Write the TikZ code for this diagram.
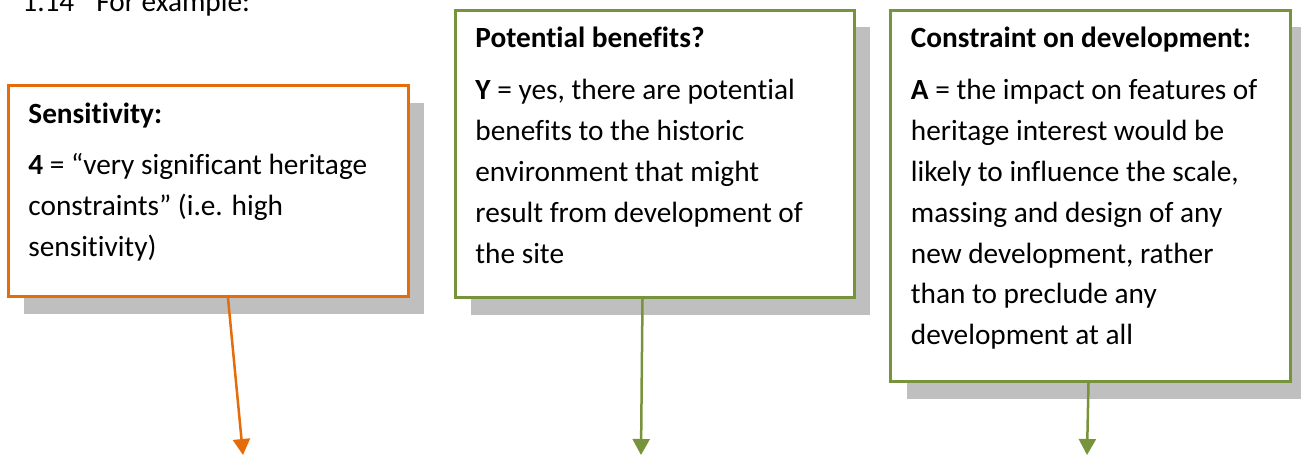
\documentclass[tikz,border=0pt]{standalone}
\usepackage{fontspec}
\setmainfont[Ligatures=NoCommon]{Carlito}
\usepackage{xcolor}
\usepackage{tikz}
\usetikzlibrary{arrows.meta, positioning, shadows}
\definecolor{sensorange}{RGB}{228,108,10}
\definecolor{leafgreen}{RGB}{119,147,60}
\definecolor{shadowgrey}{RGB}{191,191,191}

\begin{document}
\begin{tikzpicture}[x=0.5pt, y=-0.5pt,
    scorebox/.style={draw=#1, line width=1.5pt, fill=white, inner sep=0pt,
      anchor=north west,
      drop shadow={shadow xshift=8pt, shadow yshift=-8.5pt, fill=shadowgrey, opacity=1}},
    boxtext/.style={anchor=base west, inner sep=0pt,
      font=\fontsize{14.65}{20.45}\selectfont},
    pointer/.style={draw=#1, line width=1.25pt, -{Triangle[length=8pt, width=8.5pt]}}]
    \useasboundingbox (0,0) rectangle (1301,457);

    \node[boxtext] (lead) at (22,11) {\makebox[37pt][l]{1.14}For example:};

    \node[scorebox=sensorange, minimum width=200pt, minimum height=105.5pt]
      (sens) at (6.5,84) {};
    \node[scorebox=leafgreen, minimum width=199.5pt, minimum height=143.75pt]
      (benef) at (453.5,8.5) {};
    \node[scorebox=leafgreen, minimum width=200pt, minimum height=185.75pt]
      (constr) at (889,8.5) {};

    \node[boxtext] (senstext) at ([shift={(21.5,39)}]sens.north west)
      {\parbox[t]{185pt}{\textbf{Sensitivity:}\\[5.5pt]
       \textbf{4} = “very significant heritage\\
       constraints” (i.e. high\\
       sensitivity)}};
    \node[boxtext] (beneftext) at ([shift={(21.5,39)}]benef.north west)
      {\parbox[t]{185pt}{\textbf{Potential benefits?}\\[5.5pt]
       \textbf{Y} = yes, there are potential\\
       benefits to the historic\\
       environment that might\\
       result from development of\\
       the site}};
    \node[boxtext] (constrtext) at ([shift={(21.5,39)}]constr.north west)
      {\parbox[t]{185pt}{\textbf{Constraint on development:}\\[5.5pt]
       \textbf{A} = the impact on features of\\
       heritage interest would be\\
       likely to influence the scale,\\
       massing and design of any\\
       new development, rather\\
       than to preclude any\\
       development at all}};

    \coordinate (sensend) at (243,455);
    \coordinate (benefend) at (641,455);
    \coordinate (constrend) at (1087,455);

    \draw[pointer=sensorange] ([xshift=10pt]sens.south) -- (sensend);
    \draw[pointer=leafgreen] ([xshift=-6pt]benef.south) -- (benefend);
    \draw[pointer=leafgreen] ([xshift=-1pt]constr.south) -- (constrend);
\end{tikzpicture}
\end{document}
